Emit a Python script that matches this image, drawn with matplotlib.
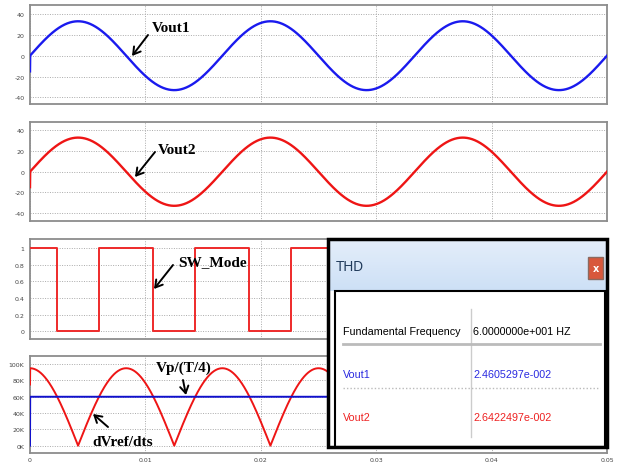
import numpy as np
import matplotlib.pyplot as plt
from matplotlib.patches import Rectangle
from matplotlib.colors import LinearSegmentedColormap
from matplotlib import font_manager

W, H = 618, 464

# signal values
freq = 60.0            # Hz (fundamental from THD window)
t_end = 0.05
vout1_amp = 33.0
vout2_amp = 33.0
vout1_start = -15.0
vout2_start = -15.0
sw_edges = [0.0, 0.00235, 0.00598, 0.01068, 0.01432, 0.01902, 0.02265, 0.02735,
            0.03098, 0.03568, 0.03932, 0.04402, 0.04765, 0.05]
sw_first = 1
dvref_peak = 95e3
dvref_start = 75e3
vp_t4 = 60e3

x_ticks = [0, 0.01, 0.02, 0.03, 0.04, 0.05]
x_labels = ['0', '0.01', '0.02', '0.03', '0.04', '0.05']
v_ticks = [-40, -20, 0, 20, 40]
v_labels = ['-40', '-20', '0', '20', '40']
sw_ticks = [0, 0.2, 0.4, 0.6, 0.8, 1]
sw_labels = ['0', '0.2', '0.4', '0.6', '0.8', '1']
d_ticks = [0, 20e3, 40e3, 60e3, 80e3, 100e3]
d_labels = ['0K', '20K', '40K', '60K', '80K', '100K']

thd_names = ['Fundamental Frequency', 'Vout1', 'Vout2']
thd_values = ['6.0000000e+001 HZ', '2.4605297e-002', '2.6422497e-002']
thd_colors = ['black', '#2a2ae0', '#ee2222']

installed = {f.name for f in font_manager.fontManager.ttflist}
if 'Liberation Sans Narrow' in installed:
    box_font, box_scale = 'Liberation Sans Narrow', 1.0
else:
    box_font, box_scale = 'Liberation Sans', 0.82


def rect(x0, y0, x1, y1):
    return [x0 / W, 1 - y1 / H, (x1 - x0) / W, (y1 - y0) / H]


def fp(x, y):
    return (x / W, 1 - y / H)


def style(ax, yticks, ylabels, ylim, show_x=False):
    ax.set_xlim(0, t_end)
    ax.set_ylim(*ylim)
    ax.set_xticks(x_ticks)
    ax.set_xticklabels(x_labels if show_x else [])
    ax.set_yticks(yticks)
    ax.set_yticklabels(ylabels)
    ax.tick_params(length=0, labelsize=4.5, colors='#444444', pad=4)
    ax.tick_params(axis='x', pad=3)
    ax.grid(True, color='#aaaaaa', linestyle=(0, (1, 1.5)), linewidth=0.7)
    ax.set_axisbelow(True)
    for s in ax.spines.values():
        s.set_color('#8c8c8c')
        s.set_linewidth(1.3)


fig = plt.figure(figsize=(W / 100, H / 100), dpi=100)

t = np.linspace(0, t_end, 3001)
vout1 = vout1_amp * np.sin(2 * np.pi * freq * t)
vout1[0] = vout1_start
vout2 = vout2_amp * np.sin(2 * np.pi * freq * t)
vout2[0] = vout2_start
dvref = dvref_peak * np.abs(np.cos(2 * np.pi * freq * t))
dvref[0] = dvref_start
vp_line = np.full_like(t, vp_t4)
vp_line[0] = 0

sw_levels = [(sw_first + i) % 2 for i in range(len(sw_edges) - 1)]
sw_levels.append(sw_levels[-1])

ax1 = fig.add_axes(rect(30, 6, 607, 105))
ax1.plot(t, vout1, color='#1a1aee', lw=1.7, zorder=3)
style(ax1, v_ticks, v_labels, (-46.3, 48.6))

ax2 = fig.add_axes(rect(30, 123, 607, 222))
ax2.plot(t, vout2, color='#ee1515', lw=1.7, zorder=3)
style(ax2, v_ticks, v_labels, (-47.7, 48.1))

ax3 = fig.add_axes(rect(30, 240, 607, 340))
ax3.plot(sw_edges, sw_levels, drawstyle='steps-post', color='#ee2a2a', lw=1.4, zorder=3)
style(ax3, sw_ticks, sw_labels, (-0.093, 1.108))

ax4 = fig.add_axes(rect(30, 357, 607, 454))
ax4.plot(t, dvref, color='#ee1515', lw=1.4, zorder=3)
ax4.plot(t, vp_line, color='#1010cc', lw=1.4, zorder=3)
style(ax4, d_ticks, d_labels, (-9e3, 110e3), show_x=True)

# annotations
arrow = dict(arrowstyle='->,head_length=0.5,head_width=0.3', lw=1.4, color='black',
             shrinkA=0, shrinkB=0)
notes = [('Vout1', (152, 29), (148, 36), (132, 57)),
         ('Vout2', (158, 150), (155, 153), (135, 178)),
         ('SW_Mode', (178, 263), (173, 266), (154, 290)),
         ('Vp/(T/4)', (156, 368), (183, 381), (186, 396)),
         ('dVref/dts', (92, 443), (108, 428), (93, 415))]
for label, tpos, a0, a1 in notes:
    fig.text(*fp(*tpos), label, fontsize=11, fontweight='bold', family='Liberation Serif',
             ha='left', va='center', zorder=10)
    ax4.annotate('', xy=fp(*a1), xytext=fp(*a0), xycoords='figure fraction',
                 textcoords='figure fraction', arrowprops=arrow, annotation_clip=False)

# THD window
box = fig.add_axes(rect(328, 240, 607, 448))
box.add_patch(Rectangle((0, 0), 279, 208, fc='white', ec='none'))
grad = np.linspace(0, 1, 50)[:, None] * np.ones((1, 10))
title_cmap = LinearSegmentedColormap.from_list('tb', ['#e4eefa', '#cde0f6'])
box.imshow(grad, extent=(0, 279, 52, 0), aspect='auto', cmap=title_cmap, zorder=1)
box.set_xlim(0, 279)
box.set_ylim(208, 0)
box.axis('off')
box.add_patch(Rectangle((7, 52), 270, 156, fc='white', ec='black', lw=1.5, zorder=3))
box.add_patch(Rectangle((0, 0), 279, 208, fill=False, ec='black', lw=2.5, zorder=6, clip_on=False))
box.add_patch(Rectangle((260, 18), 15, 22, fc='#d8583c', ec='#8a6a60', lw=1, zorder=4))
box.text(267.5, 29, 'x', color='white', fontsize=7, fontweight='bold', ha='center', va='center', zorder=5)
box.text(8, 27, 'THD', color='#203a5a', fontsize=12 * box_scale, family=box_font, ha='left', va='center', zorder=4)
box.plot([143, 143], [70, 198], color='#cccccc', lw=1, zorder=4)
box.plot([15, 272], [105, 105], color='#bbbbbb', lw=2, zorder=4)
box.plot([15, 272], [149, 149], color='#bbbbbb', lw=1, linestyle=(0, (1, 1.5)), zorder=4)
for i, (name, val, col) in enumerate(zip(thd_names, thd_values, thd_colors)):
    y = 92 + 43 * i
    box.text(15, y, name, color=col, fontsize=9.5 * box_scale, family=box_font, ha='left', va='center', zorder=5)
    box.text(145, y, val, color=col, fontsize=9.5 * box_scale, family=box_font, ha='left', va='center', zorder=5)

fig.savefig('out.png', dpi=100)
